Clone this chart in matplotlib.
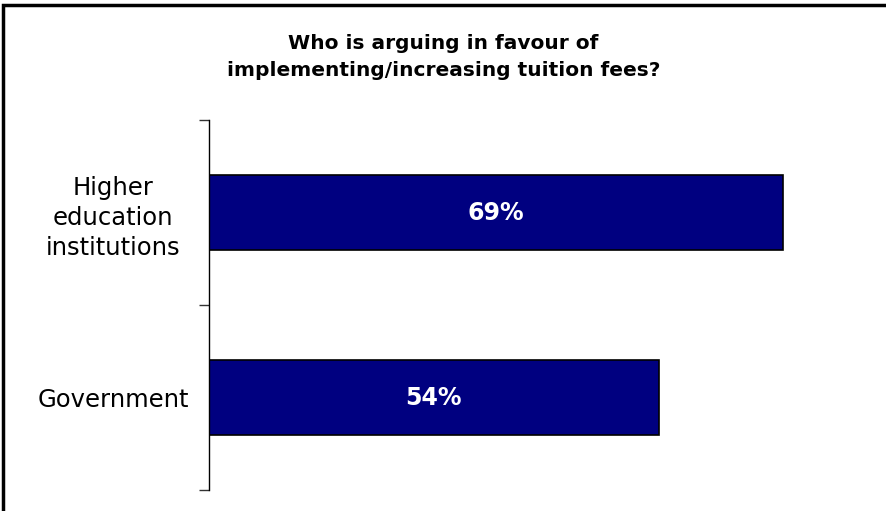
import matplotlib.pyplot as plt
from matplotlib.patches import Rectangle

# share of respondents naming each group
groups = ["Government", "Higher\neducation\ninstitutions"]
shares = [54, 69]
value_labels = ["54%", "69%"]

fig = plt.figure(figsize=(8.87, 5.11), dpi=100)
W, H = 887, 511
ax = fig.add_axes([209 / W, (H - 490) / H, 666 / W, 370 / H])

pos = list(range(len(groups)))
ax.barh(pos, shares, height=0.405, color="#000080", edgecolor="black", linewidth=1.2)

for p, v, lab in zip(pos, shares, value_labels):
    ax.text(v / 2, p, lab, color="white", fontsize=17, fontweight="bold",
            ha="center", va="center")

ax.set_xlim(0, 80)
ax.set_ylim(-0.5, len(groups) - 0.5)

ax.set_yticks(pos)
ax.set_yticklabels(groups, fontsize=17.5, ha="center", linespacing=1.3)
ax.tick_params(axis="y", which="major", length=0, pad=69)
ax.set_yticks([-0.5, 0.5, 1.5], minor=True)
ax.tick_params(axis="y", which="minor", length=7, width=1, color="#333333")
ax.set_xticks([])

for s in ["top", "right", "bottom"]:
    ax.spines[s].set_visible(False)
ax.spines["left"].set_linewidth(1)

fig.text(0.5, 1 - 57 / H, "Who is arguing in favour of\nimplementing/increasing tuition fees?",
         ha="center", va="center", fontsize=14.5, fontweight="bold", linespacing=1.55)

# outer frame
fig.patches.append(Rectangle((3 / W, -0.02), 1.0, 1 - 4.5 / H + 0.02, transform=fig.transFigure,
                             fill=False, edgecolor="black", linewidth=2.5))

fig.savefig("out.png", dpi=100)
